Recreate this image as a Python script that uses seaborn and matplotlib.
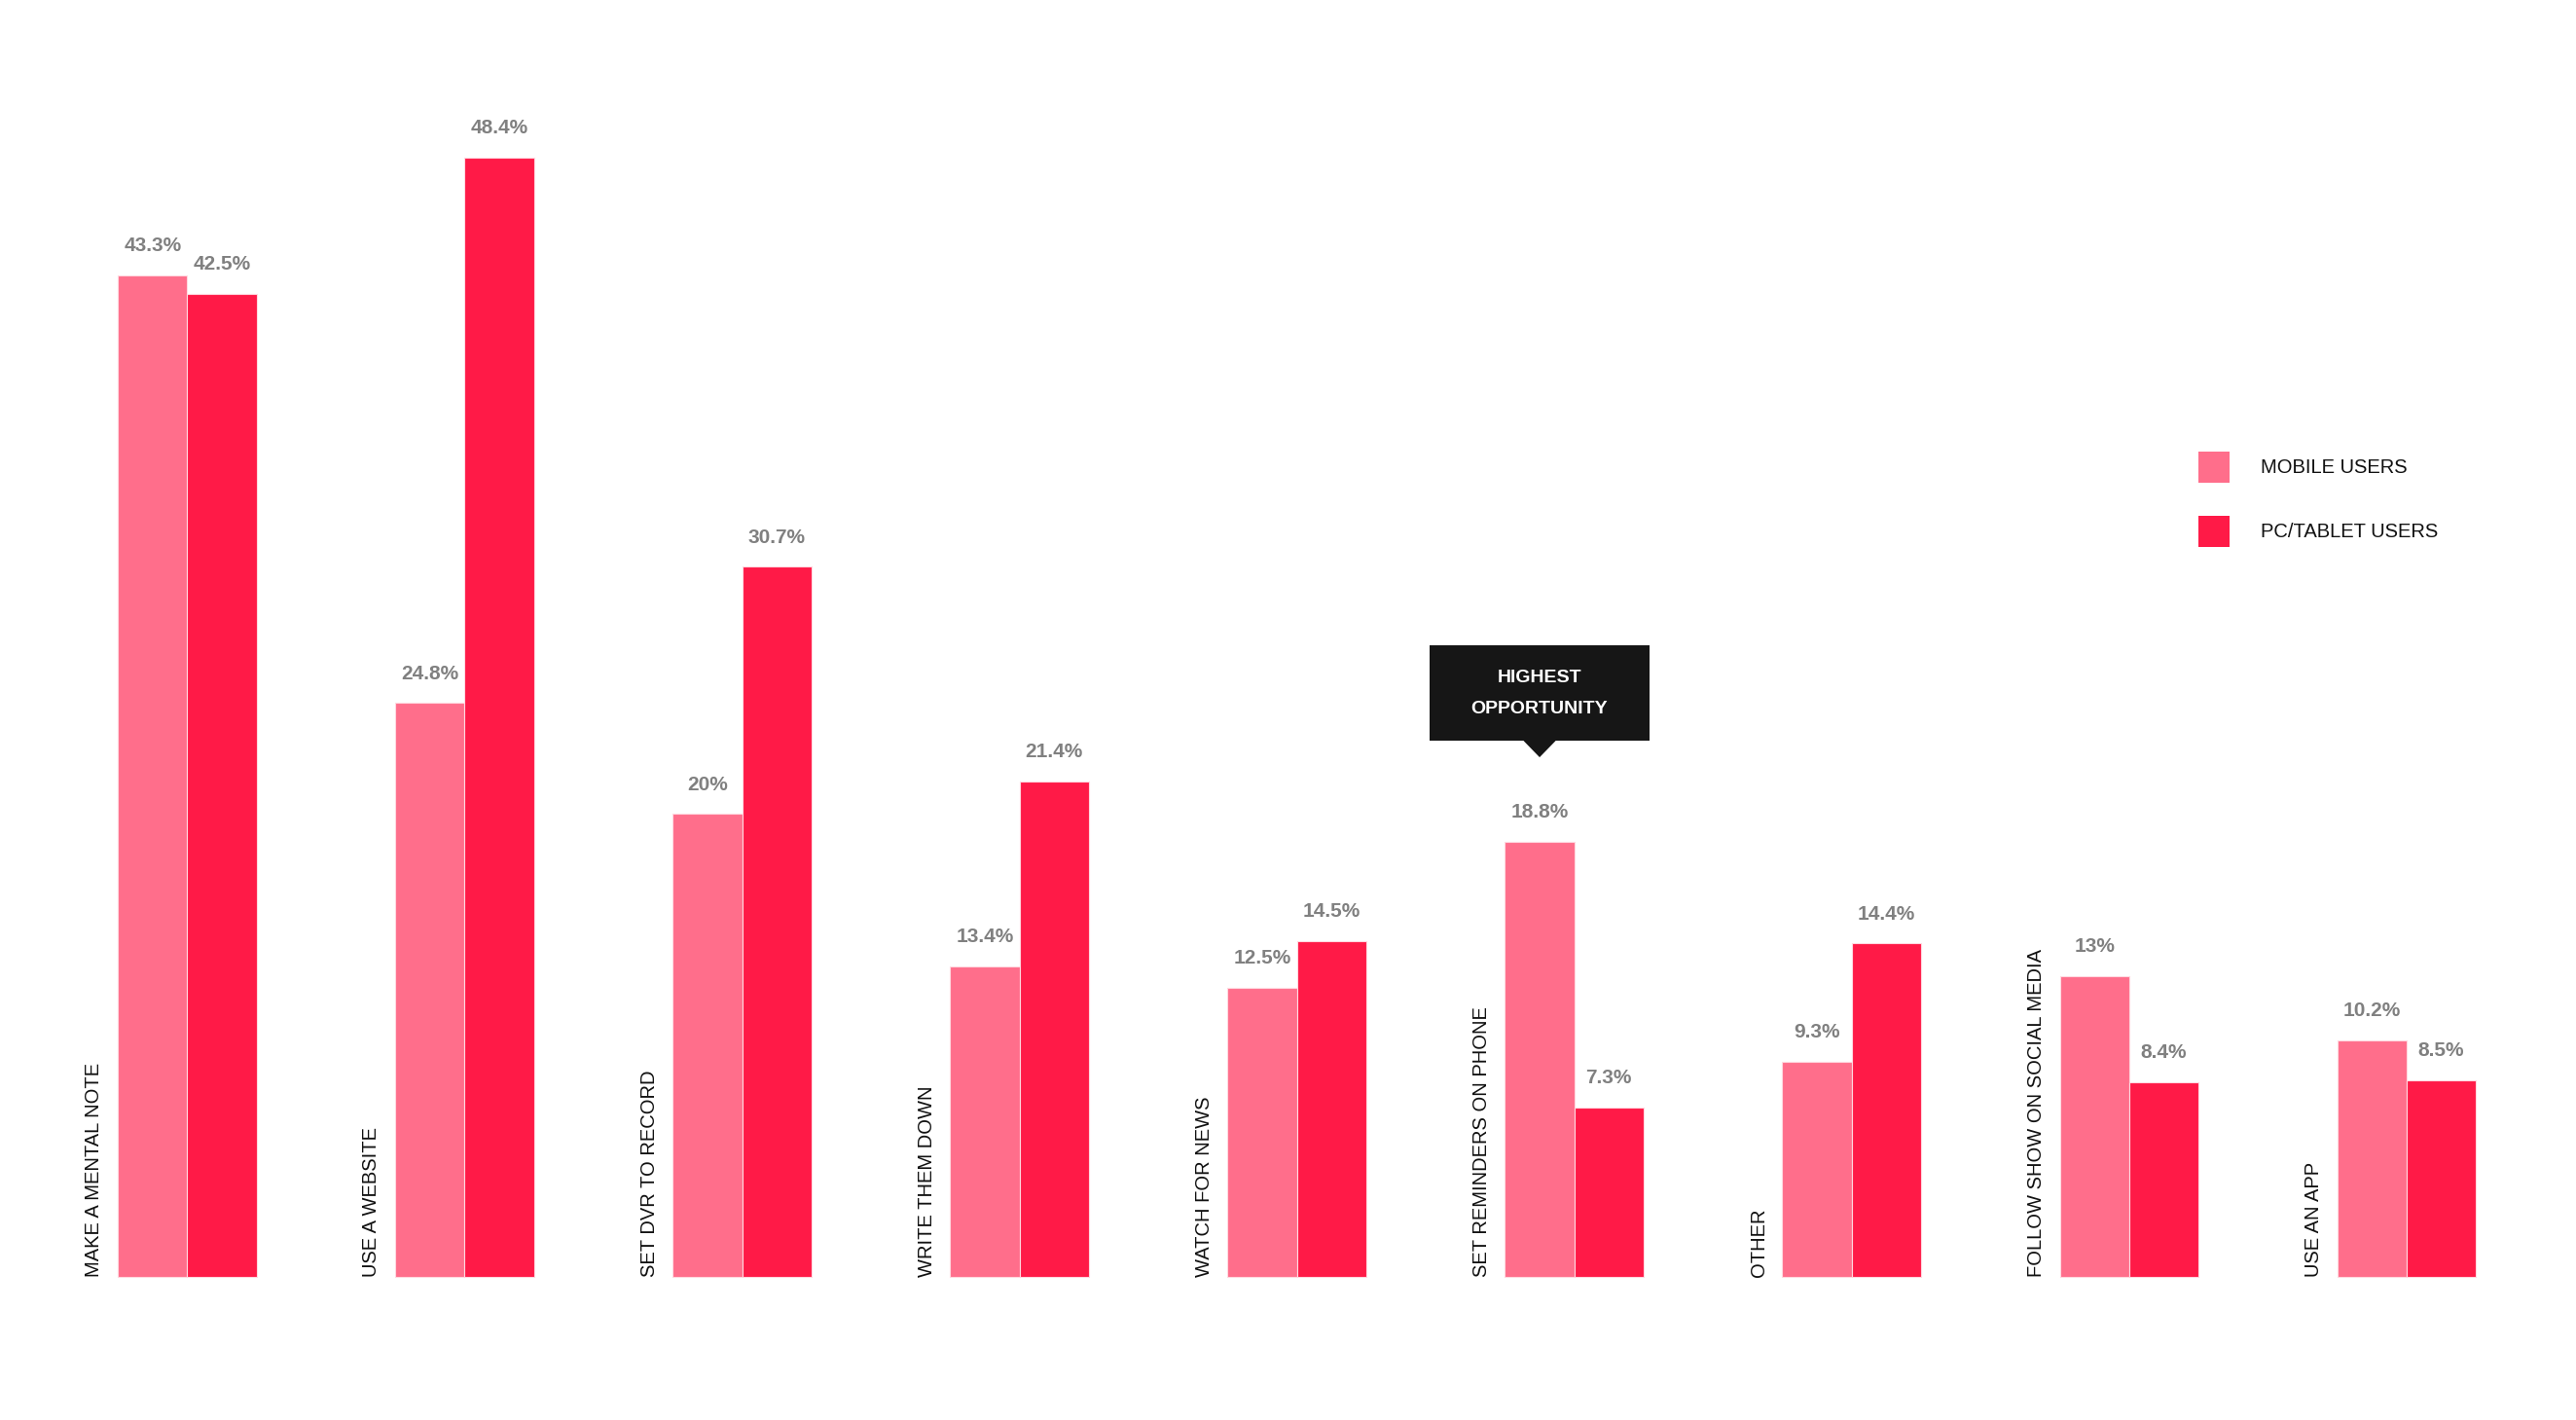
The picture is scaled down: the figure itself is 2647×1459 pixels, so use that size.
import matplotlib
matplotlib.use("Agg")
import matplotlib.pyplot as plt
import seaborn as sns
import pandas as pd
from matplotlib.patches import Rectangle, Polygon

categories = ["MAKE A MENTAL NOTE", "USE A WEBSITE", "SET DVR TO RECORD", "WRITE THEM DOWN",
              "WATCH FOR NEWS", "SET REMINDERS ON PHONE", "OTHER", "FOLLOW SHOW ON SOCIAL MEDIA",
              "USE AN APP"]
mobile_users = [43.3, 24.8, 20.0, 13.4, 12.5, 18.8, 9.3, 13.0, 10.2]
pc_tablet_users = [42.5, 48.4, 30.7, 21.4, 14.5, 7.3, 14.4, 8.4, 8.5]
series_names = ["MOBILE USERS", "PC/TABLET USERS"]
colors = ["#FF6E8B", "#FF1A47"]
callout_lines = ["HIGHEST", "OPPORTUNITY"]
callout_category = "SET REMINDERS ON PHONE"

df = pd.DataFrame({
    "category": categories * 2,
    "value": mobile_users + pc_tablet_users,
    "series": [series_names[0]] * len(categories) + [series_names[1]] * len(categories),
})

sns.set_theme(style="white")
plt.rcParams["font.family"] = ["Liberation Sans", "DejaVu Sans"]

fig = plt.figure(figsize=(26.47, 14.59), dpi=100)
ax = fig.add_axes([0, 0, 1, 1])

sns.barplot(data=df, x="category", y="value", hue="series", order=categories,
            hue_order=series_names, palette=colors, width=0.5, ax=ax,
            edgecolor="#FFD9E0", linewidth=0.8, saturation=1, errorbar=None)

ax.set_xlim(-0.675, 8.611)
ax.set_ylim(-6.21, 55.22)
ax.axis("off")

# value labels
for cont in ax.containers:
    labels = [f"{v:g}%" for v in cont.datavalues]
    ax.bar_label(cont, labels=labels, padding=15, fontsize=15, fontweight="bold",
                 color="#808080")

# category labels
for i, cat in enumerate(categories):
    ax.text(i - 0.335, 0, cat, rotation=90, ha="center", va="bottom",
            fontsize=14.5, color="#111111")

# callout
ci = categories.index(callout_category)
cx = ci - 0.125
w = 0.79
ax.add_patch(Rectangle((cx - w / 2, 23.18), w, 27.31 - 23.18, facecolor="#161616",
                       edgecolor="none", zorder=5))
ax.add_patch(Polygon([[cx - 0.06, 23.2], [cx + 0.06, 23.2], [cx, 22.46]], closed=True,
                     facecolor="#161616", edgecolor="none", zorder=5))
ax.text(cx, 25.9, callout_lines[0], ha="center", va="center", color="white",
        fontsize=14, fontweight="bold", zorder=6)
ax.text(cx, 24.55, callout_lines[1], ha="center", va="center", color="white",
        fontsize=14, fontweight="bold", zorder=6)

# legend
sns.move_legend(ax, loc="upper left", bbox_to_anchor=(0.8534, 1 - 464 / 1459),
                frameon=False, title=None, fontsize=14.5, handlelength=1.59,
                handleheight=2.068, handletextpad=1.6, labelspacing=1.69,
                borderpad=0, borderaxespad=0)
leg = ax.get_legend()
for t in leg.get_texts():
    t.set_color("#111111")
for h in leg.legend_handles:
    h.set_edgecolor("none")

fig.savefig("out.png", dpi=100, facecolor="white")
